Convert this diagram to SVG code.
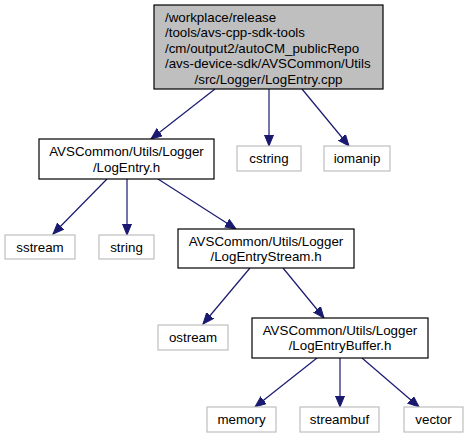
<svg xmlns="http://www.w3.org/2000/svg" width="468" height="439" viewBox="0 0 468 439">
<style>
text{font-family:"Liberation Sans",Arial,Helvetica,sans-serif;font-size:13.33px;fill:#000}
.m{text-anchor:middle}
.main rect{fill:#fff;stroke:#000;stroke-width:1.2}
.leaf rect{fill:#fff;stroke:#bfbfbf;stroke-width:1.2}
.root rect{fill:#bfbfbf;stroke:#000;stroke-width:1.2}
.e line{stroke:#191970;stroke-width:1.2;marker-end:url(#a)}
</style>
<defs>
<marker id="a" markerUnits="userSpaceOnUse" markerWidth="12" markerHeight="10" refX="11" refY="5" orient="auto">
<path d="M0,0.5 L11,5 L0,9.5 Z" fill="#191970" stroke="#191970"/>
</marker>
</defs>
<rect width="468" height="439" fill="#fff"/>
<g class="e">
<line x1="215" y1="89" x2="151" y2="139"/>
<line x1="269" y1="89" x2="269" y2="146"/>
<line x1="302" y1="89" x2="349" y2="146"/>
<line x1="107" y1="179" x2="53" y2="234"/>
<line x1="127" y1="179" x2="127" y2="235"/>
<line x1="158" y1="179" x2="236" y2="229"/>
<line x1="250" y1="268" x2="203" y2="324"/>
<line x1="283" y1="268" x2="324" y2="318"/>
<line x1="317" y1="358" x2="255" y2="407"/>
<line x1="340" y1="358" x2="340" y2="407"/>
<line x1="362" y1="358" x2="419" y2="407"/>
</g>
<g id="root" class="root">
<rect x="154" y="5" width="229" height="84"/>
<text x="165" y="22">/workplace/release</text>
<text x="165" y="37">/tools/avs-cpp-sdk-tools</text>
<text x="165" y="53">/cm/output2/autoCM_publicRepo</text>
<text x="165" y="68">/avs-device-sdk/AVSCommon/Utils</text>
<text class="m" x="268.5" y="84">/src/Logger/LogEntry.cpp</text>
</g>
<g id="logentry" class="main">
<rect x="39" y="139" width="175" height="40"/>
<text class="m" x="126.5" y="156">AVSCommon/Utils/Logger</text>
<text class="m" x="126.5" y="172">/LogEntry.h</text>
</g>
<g id="cstring" class="leaf">
<rect x="237" y="146" width="64" height="25"/>
<text class="m" x="269" y="163">cstring</text>
</g>
<g id="iomanip" class="leaf">
<rect x="324" y="146" width="66" height="25"/>
<text class="m" x="357" y="163">iomanip</text>
</g>
<g id="sstream" class="leaf">
<rect x="5" y="235" width="70" height="24"/>
<text class="m" x="40" y="252">sstream</text>
</g>
<g id="string" class="leaf">
<rect x="99" y="235" width="55" height="24"/>
<text class="m" x="126.5" y="252">string</text>
</g>
<g id="logentrystream" class="main">
<rect x="178" y="229" width="176" height="39"/>
<text class="m" x="266" y="246">AVSCommon/Utils/Logger</text>
<text class="m" x="266" y="261">/LogEntryStream.h</text>
</g>
<g id="ostream" class="leaf">
<rect x="158" y="325" width="70" height="25"/>
<text class="m" x="193" y="342">ostream</text>
</g>
<g id="logentrybuffer" class="main">
<rect x="252" y="318" width="176" height="40"/>
<text class="m" x="340" y="335">AVSCommon/Utils/Logger</text>
<text class="m" x="340" y="350">/LogEntryBuffer.h</text>
</g>
<g id="memory" class="leaf">
<rect x="207" y="407" width="69" height="25"/>
<text class="m" x="241.5" y="424">memory</text>
</g>
<g id="streambuf" class="leaf">
<rect x="300" y="407" width="79" height="25"/>
<text class="m" x="339.5" y="424">streambuf</text>
</g>
<g id="vector" class="leaf">
<rect x="404" y="407" width="59" height="25"/>
<text class="m" x="433.5" y="424">vector</text>
</g>
</svg>
